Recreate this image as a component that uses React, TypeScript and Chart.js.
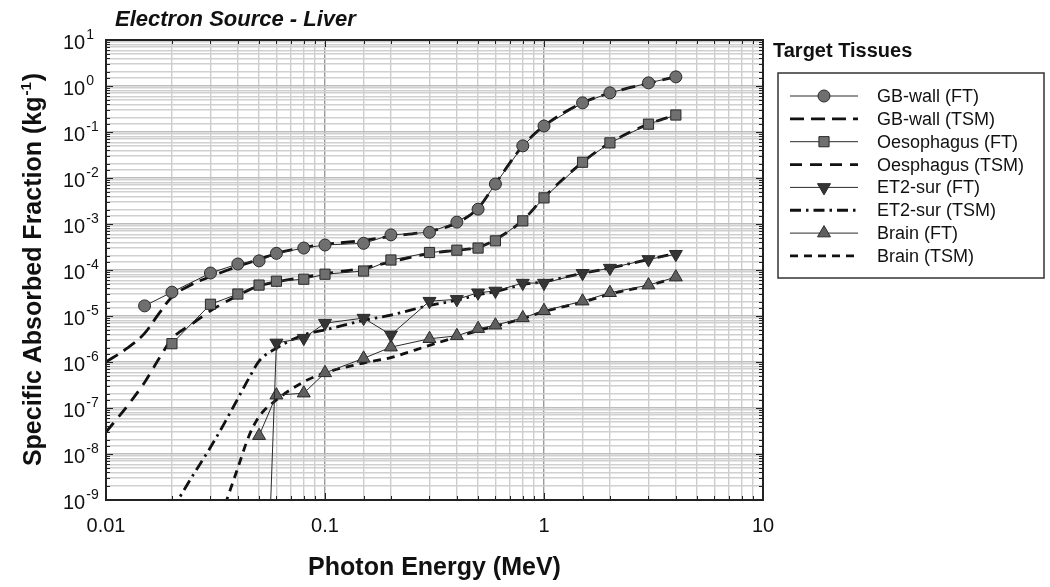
import React, { useEffect, useRef } from "react";
import { Chart, registerables } from "chart.js";

Chart.register(...registerables);

// ---------------- data ----------------
const gbWallEnergy = [0.015, 0.02, 0.03, 0.04, 0.05, 0.06, 0.08, 0.1, 0.15, 0.2, 0.3, 0.4, 0.5, 0.6, 0.8, 1, 1.5, 2, 3, 4];
const gbWallFT = [1.66e-5, 3.3e-5, 8.6e-5, 1.35e-4, 1.58e-4, 2.3e-4, 3.0e-4, 3.5e-4, 3.8e-4, 5.8e-4, 6.6e-4, 1.1e-3, 2.1e-3, 7.4e-3, 5.0e-2, 0.135, 0.43, 0.71, 1.17, 1.58];

const oesophagusEnergy = [0.02, 0.03, 0.04, 0.05, 0.06, 0.08, 0.1, 0.15, 0.2, 0.3, 0.4, 0.5, 0.6, 0.8, 1, 1.5, 2, 3, 4];
const oesophagusFT = [2.5e-6, 1.8e-5, 3.0e-5, 4.7e-5, 5.7e-5, 6.3e-5, 8.1e-5, 9.5e-5, 1.65e-4, 2.4e-4, 2.7e-4, 3.0e-4, 4.3e-4, 1.17e-3, 3.7e-3, 0.022, 0.058, 0.148, 0.234];

const et2Energy = [0.05, 0.06, 0.08, 0.1, 0.15, 0.2, 0.3, 0.4, 0.5, 0.6, 0.8, 1, 1.5, 2, 3, 4];
const et2FT = [1e-16, 2.6e-6, 3.3e-6, 7.0e-6, 9.0e-6, 3.9e-6, 2.1e-5, 2.3e-5, 3.2e-5, 3.5e-5, 5.2e-5, 5.2e-5, 8.5e-5, 1.1e-4, 1.7e-4, 2.2e-4];

const brainEnergy = [0.05, 0.06, 0.08, 0.1, 0.15, 0.2, 0.3, 0.4, 0.5, 0.6, 0.8, 1, 1.5, 2, 3, 4];
const brainFT = [2.5e-8, 1.9e-7, 2.1e-7, 5.8e-7, 1.2e-6, 2.1e-6, 3.2e-6, 3.7e-6, 5.3e-6, 6.3e-6, 9.1e-6, 1.3e-5, 2.1e-5, 3.2e-5, 4.7e-5, 7.0e-5];

const tsmEnergy = [0.01, 0.0125, 0.015, 0.0175, 0.02, 0.025, 0.03, 0.035, 0.04, 0.045, 0.05, 0.06, 0.08, 0.1, 0.15, 0.2, 0.3, 0.4, 0.5, 0.6, 0.8, 1, 1.5, 2, 3, 4];
const gbWallTSM = [1e-6, 2e-6, 4.2e-6, 1.15e-5, 2.6e-5, 5e-5, 7.2e-5, 9.5e-5, 1.2e-4, 1.45e-4, 1.7e-4, 2.3e-4, 3.1e-4, 3.6e-4, 4.4e-4, 5.4e-4, 7.0e-4, 1.05e-3, 2.2e-3, 7.5e-3, 5.0e-2, 0.135, 0.43, 0.70, 1.15, 1.58];
const oesophagusTSM = [3e-8, 1.1e-7, 3.6e-7, 1.2e-6, 3.2e-6, 7e-6, 1.3e-5, 2e-5, 2.8e-5, 3.7e-5, 4.5e-5, 5.5e-5, 7.0e-5, 8.3e-5, 1.1e-4, 1.5e-4, 2.3e-4, 2.7e-4, 3.1e-4, 4.6e-4, 1.2e-3, 3.8e-3, 0.022, 0.058, 0.148, 0.234];
const et2TSM = [null, null, null, null, 6e-10, 3.5e-9, 1.4e-8, 5e-8, 1.6e-7, 4.5e-7, 1.05e-6, 2e-6, 3.9e-6, 5e-6, 8e-6, 1.05e-5, 1.7e-5, 2.2e-5, 2.9e-5, 3.4e-5, 4.8e-5, 5.6e-5, 8.5e-5, 1.1e-4, 1.7e-4, 2.3e-4];
const brainTSM = [null, null, null, null, null, null, null, 8e-10, 5e-9, 2.5e-8, 6.5e-8, 1.5e-7, 3.7e-7, 5.8e-7, 9.5e-7, 1.25e-6, 2.3e-6, 3.5e-6, 4.8e-6, 6e-6, 8.8e-6, 1.25e-5, 2e-5, 3e-5, 4.6e-5, 6.8e-5];

const seriesLabels = ["GB-wall (FT)", "GB-wall (TSM)", "Oesophagus (FT)", "Oesphagus (TSM)", "ET2-sur (FT)", "ET2-sur (TSM)", "Brain (FT)", "Brain (TSM)"];
const xTickValues = [0.01, 0.1, 1, 10];
const xTickLabels = ["0.01", "0.1", "1", "10"];
const yTickExponents = [1, 0, -1, -2, -3, -4, -5, -6, -7, -8, -9];

const chartTitle = "Electron Source - Liver";
const xTitle = "Photon Energy (MeV)";
const yTitleMain = "Specific Absorbed Fraction (kg";
const yTitleSup = "-1";
const yTitleEnd = ")";
const legendTitle = "Target Tissues";

// ---------------- styles ----------------
const FONT = '"Liberation Sans", Arial, Helvetica, sans-serif';
const FT_LINE = "#2a2a2a";
const MARKER_EDGE = "#2a2a2a";
const TSM_LINE = "#111111";

type Style = { ft: boolean; marker?: string; rot?: number; radius?: number; fill?: string; dash?: number[] };
const styles: Style[] = [
  { ft: true, marker: "circle", radius: 6, fill: "#6f6f6f" },
  { ft: false, dash: [14, 7] },
  { ft: true, marker: "rect", radius: 7.2, fill: "#6f6f6f" },
  { ft: false, dash: [12, 8] },
  { ft: true, marker: "triangle", rot: 180, radius: 7.5, fill: "#353535" },
  { ft: false, dash: [11, 5, 2.5, 5] },
  { ft: true, marker: "triangle", rot: 0, radius: 7.5, fill: "#5f5f5f" },
  { ft: false, dash: [8, 6] },
];

const pts = (xs: number[], ys: (number | null)[]) =>
  xs.map((x, i) => ({ x, y: ys[i] })).filter((p) => p.y !== null) as { x: number; y: number }[];

const isDecade = (v: number) => Math.abs(Math.log10(v) - Math.round(Math.log10(v))) < 1e-6;

function drawMarker(ctx: CanvasRenderingContext2D, kind: string, x: number, y: number, r: number, rot: number, fill: string) {
  ctx.save();
  ctx.fillStyle = fill;
  ctx.strokeStyle = MARKER_EDGE;
  ctx.lineWidth = 1;
  ctx.setLineDash([]);
  ctx.beginPath();
  if (kind === "circle") {
    ctx.arc(x, y, r, 0, Math.PI * 2);
  } else if (kind === "rect") {
    const s = Math.SQRT1_2 * r;
    ctx.rect(x - s, y - s, 2 * s, 2 * s);
  } else {
    ctx.translate(x, y);
    ctx.rotate((rot * Math.PI) / 180);
    for (let k = 0; k < 3; k++) {
      const a = (k * 2 * Math.PI) / 3;
      const px = Math.sin(a) * r;
      const py = -Math.cos(a) * r;
      if (k === 0) ctx.moveTo(px, py);
      else ctx.lineTo(px, py);
    }
    ctx.closePath();
  }
  ctx.fill();
  ctx.stroke();
  ctx.restore();
}

const decorPlugin = {
  id: "decor",
  afterDraw(chart: any) {
    const ctx: CanvasRenderingContext2D = chart.ctx;
    const { left, right, top, bottom } = chart.chartArea;
    const xs = chart.scales.x;
    const ys = chart.scales.y;
    ctx.save();

    // tick marks on all four edges
    ctx.strokeStyle = "#222";
    ctx.lineWidth = 1;
    ctx.setLineDash([]);
    xs.ticks.forEach((t: any) => {
      const px = Math.round(xs.getPixelForValue(t.value)) + 0.5;
      const len = isDecade(t.value) ? 7 : 4;
      ctx.beginPath();
      ctx.moveTo(px, bottom);
      ctx.lineTo(px, bottom - len);
      ctx.moveTo(px, top);
      ctx.lineTo(px, top + len);
      ctx.stroke();
    });
    ys.ticks.forEach((t: any) => {
      const py = Math.round(ys.getPixelForValue(t.value)) + 0.5;
      const len = isDecade(t.value) ? 7 : 4;
      ctx.beginPath();
      ctx.moveTo(left, py);
      ctx.lineTo(left + len, py);
      ctx.moveTo(right, py);
      ctx.lineTo(right - len, py);
      ctx.stroke();
    });

    // frame
    ctx.strokeStyle = "#222";
    ctx.lineWidth = 2;
    ctx.strokeRect(left, top, right - left, bottom - top);

    ctx.fillStyle = "#111";
    // x tick labels
    ctx.font = `20px ${FONT}`;
    ctx.textAlign = "center";
    ctx.textBaseline = "alphabetic";
    xTickValues.forEach((v, i) => {
      ctx.fillText(xTickLabels[i], xs.getPixelForValue(v), 532);
    });

    // y tick labels 10^n
    yTickExponents.forEach((e) => {
      const py = ys.getPixelForValue(Math.pow(10, e));
      ctx.textAlign = "left";
      ctx.textBaseline = "middle";
      ctx.font = `20px ${FONT}`;
      ctx.fillText("10", 63, py + 3);
      const w = ctx.measureText("10").width;
      ctx.font = `14px ${FONT}`;
      ctx.fillText(String(e), 63 + w + 1, py - 5);
    });

    // chart title
    ctx.font = `italic bold 22px ${FONT}`;
    ctx.textAlign = "left";
    ctx.textBaseline = "alphabetic";
    ctx.fillText(chartTitle, 115, 26);

    // x title
    ctx.font = `bold 25px ${FONT}`;
    ctx.textAlign = "center";
    ctx.fillText(xTitle, (left + right) / 2, 575);

    // y title (rotated)
    ctx.save();
    ctx.translate(41, (top + bottom) / 2);
    ctx.rotate(-Math.PI / 2);
    ctx.textAlign = "left";
    ctx.font = `bold 25px ${FONT}`;
    const w1 = ctx.measureText(yTitleMain).width;
    const w3 = ctx.measureText(yTitleEnd).width;
    ctx.font = `bold 15px ${FONT}`;
    const w2 = ctx.measureText(yTitleSup).width;
    const start = -(w1 + w2 + w3 + 1) / 2;
    ctx.font = `bold 25px ${FONT}`;
    ctx.fillText(yTitleMain, start, 0);
    ctx.font = `bold 15px ${FONT}`;
    ctx.fillText(yTitleSup, start + w1 + 1, -10);
    ctx.font = `bold 25px ${FONT}`;
    ctx.fillText(yTitleEnd, start + w1 + w2 + 2, 0);
    ctx.restore();

    // legend
    ctx.font = `bold 20px ${FONT}`;
    ctx.textAlign = "left";
    ctx.fillText(legendTitle, 773, 57);
    ctx.strokeStyle = "#333";
    ctx.lineWidth = 1.5;
    ctx.strokeRect(778, 73, 266, 205);
    seriesLabels.forEach((lab, i) => {
      const y = 96 + i * 22.85;
      const st = styles[i];
      ctx.save();
      ctx.beginPath();
      if (st.ft) {
        ctx.strokeStyle = FT_LINE;
        ctx.lineWidth = 1;
        ctx.setLineDash([]);
      } else {
        ctx.strokeStyle = TSM_LINE;
        ctx.lineWidth = 2.8;
        ctx.setLineDash(st.dash || []);
      }
      ctx.moveTo(790, y);
      ctx.lineTo(858, y);
      ctx.stroke();
      ctx.restore();
      if (st.ft) drawMarker(ctx, st.marker!, 824, y, st.radius!, st.rot || 0, st.fill!);
      ctx.fillStyle = "#111";
      ctx.font = `18px ${FONT}`;
      ctx.textBaseline = "middle";
      ctx.fillText(lab, 877, y + 1);
      ctx.textBaseline = "alphabetic";
    });

    ctx.restore();
  },
};

export default function App() {
  const ref = useRef<HTMLCanvasElement | null>(null);

  useEffect(() => {
    if (!ref.current) return;
    const dataSets = [
      pts(gbWallEnergy, gbWallFT),
      pts(tsmEnergy, gbWallTSM),
      pts(oesophagusEnergy, oesophagusFT),
      pts(tsmEnergy, oesophagusTSM),
      pts(et2Energy, et2FT),
      pts(tsmEnergy, et2TSM),
      pts(brainEnergy, brainFT),
      pts(tsmEnergy, brainTSM),
    ];
    const datasets: any[] = dataSets.map((d, i) => {
      const st = styles[i];
      if (st.ft) {
        return {
          label: seriesLabels[i],
          data: d,
          borderColor: FT_LINE,
          borderWidth: 1,
          pointStyle: st.marker,
          pointRotation: st.rot || 0,
          pointRadius: st.radius,
          pointBackgroundColor: st.fill,
          pointBorderColor: MARKER_EDGE,
          pointBorderWidth: 1,
          tension: 0,
          fill: false,
        };
      }
      return {
        label: seriesLabels[i],
        data: d,
        borderColor: TSM_LINE,
        borderWidth: 2.8,
        borderDash: st.dash,
        pointRadius: 0,
        cubicInterpolationMode: "monotone",
        fill: false,
      };
    });

    const chart = new Chart(ref.current, {
      type: "line",
      data: { datasets },
      options: {
        responsive: false,
        animation: false,
        devicePixelRatio: 1,
        layout: { padding: { left: 106, top: 40, right: 287, bottom: 87 } },
        plugins: {
          legend: { display: false },
          tooltip: { enabled: false },
          title: { display: false },
        },
        scales: {
          x: {
            type: "logarithmic",
            min: 0.01,
            max: 10,
            ticks: { display: false },
            border: { display: false },
            grid: {
              drawTicks: false,
              tickLength: 0,
              lineWidth: 1.4,
              color: (c: any) => (c.tick && isDecade(c.tick.value) ? "#9a9a9a" : "#cdcdcd"),
            },
            afterFit: (s: any) => {
              s.height = 0;
            },
          },
          y: {
            type: "logarithmic",
            min: 1e-9,
            max: 10,
            ticks: { display: false },
            border: { display: false },
            grid: {
              drawTicks: false,
              tickLength: 0,
              lineWidth: 1.4,
              color: (c: any) => (c.tick && isDecade(c.tick.value) ? "#bdbdbd" : "#d0d0d0"),
            },
            afterFit: (s: any) => {
              s.width = 0;
            },
          },
        },
      },
      plugins: [decorPlugin],
    } as any);
    return () => chart.destroy();
  }, []);

  return (
    <div style={{ position: "fixed", left: 0, top: 0, width: 1050, height: 587, background: "#fff" }}>
      <canvas ref={ref} width={1050} height={587} style={{ width: 1050, height: 587, display: "block" }} />
    </div>
  );
}
